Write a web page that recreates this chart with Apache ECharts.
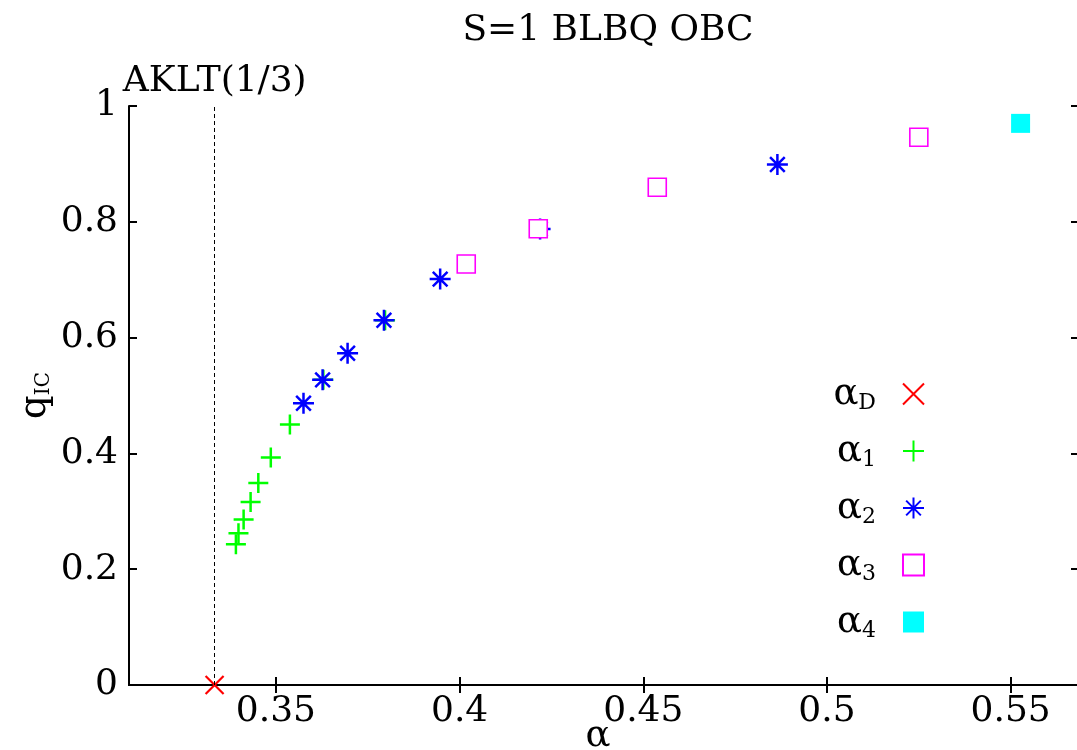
<!DOCTYPE html>
<html>
<head>
<meta charset="utf-8">
<script src="https://cdn.jsdelivr.net/npm/echarts@6/dist/echarts.min.js"></script>
<style>html,body{margin:0;padding:0;background:#fff}#c{width:1077px;height:750px}</style>
</head>
<body>
<div id="c"></div>
<script>
// ---- data ----
var titleText = 'S=1 BLBQ OBC';
var aklt = 1 / 3;
var xTicks = [0.35, 0.4, 0.45, 0.5, 0.55];
var yTicks = [0, 0.2, 0.4, 0.6, 0.8, 1];
var alphaD = [[0.3333, 0]];
var alpha1 = [[0.3391, 0.243], [0.3398, 0.262], [0.3412, 0.286], [0.3431, 0.316], [0.3452, 0.349], [0.3486, 0.393], [0.3538, 0.450], [0.3629, 0.527], [0.3797, 0.630]];
var alpha2 = [[0.3575, 0.4865], [0.3627, 0.527], [0.3695, 0.573], [0.3794, 0.630], [0.3947, 0.701], [0.4219, 0.7876], [0.4865, 0.899]];
var alpha3 = [[0.4018, 0.727], [0.4214, 0.788], [0.4538, 0.8596], [0.525, 0.946]];
var alpha4 = [[0.5527, 0.970]];

var FONT = 'DejaVu Serif';
var crossPath = 'path://M0,0L10,10M10,0L0,10';
var plusPath = 'path://M5,0L5,10M0,5L10,5';
var starPath = 'path://M5,0L5,10M0,5L10,5M1.5,1.5L8.5,8.5M8.5,1.5L1.5,8.5';

function sub(a, s) { return '{a|' + a + '}{s|' + s + '}'; }
var legendNames = {'aD': sub('α', 'D'), 'a1': sub('α', '1'), 'a2': sub('α', '2'), 'a3': sub('α', '3'), 'a4': sub('α', '4')};

var chart = echarts.init(document.getElementById('c'));
var axisCommon = {
  axisLine: {show: true, lineStyle: {color: '#000', width: 2}},
  axisTick: {show: true, inside: true, length: 8, lineStyle: {color: '#000', width: 2}},
  splitLine: {show: false}
};
chart.setOption({
  animation: false,
  backgroundColor: '#fff',
  title: {
    text: titleText, left: 603, top: 8, textAlign: 'center',
    textStyle: {fontFamily: FONT, fontWeight: 'normal', fontSize: 36, color: '#000'}
  },
  grid: {left: 129, top: 106, width: 950, height: 579, outerBoundsMode: 'none', containLabel: false},
  legend: {
    orient: 'vertical', right: 152, top: 374, align: 'right', itemGap: 17, padding: 0,
    itemWidth: 21, itemHeight: 21, selectedMode: false,
    formatter: function (n) { return legendNames[n]; },
    textStyle: {
      fontFamily: FONT, color: '#000',
      rich: {
        a: {fontFamily: FONT, fontSize: 37, lineHeight: 44, color: '#000'},
        s: {fontFamily: FONT, fontSize: 22, lineHeight: 26, color: '#000', padding: [18, 22, 0, 0]}
      }
    },
    data: ['aD', 'a1', 'a2', 'a3', 'a4']
  },
  xAxis: [
    Object.assign({}, axisCommon, {
      type: 'value', min: 0.31, max: 0.5686, position: 'bottom',
      name: 'α', nameLocation: 'middle', nameGap: 33, nameMoveOverlap: false,
      nameTextStyle: {fontFamily: FONT, fontSize: 37, color: '#000', padding: [0, 12, 0, 0]},
      axisTick: Object.assign({}, axisCommon.axisTick, {customValues: xTicks}),
      axisLabel: {customValues: xTicks, fontFamily: FONT, fontSize: 36, color: '#000', margin: 9,
        formatter: function (v) { return String(+v.toFixed(2)); }}
    }),
    Object.assign({}, axisCommon, {
      type: 'value', min: 0.31, max: 0.5686, position: 'top',
      axisTick: Object.assign({}, axisCommon.axisTick, {customValues: xTicks}),
      axisLabel: {show: false, customValues: xTicks}
    })
  ],
  yAxis: [
    Object.assign({}, axisCommon, {
      type: 'value', min: 0, max: 1, interval: 0.2, position: 'left',
      name: '{a|q}{s|IC}', nameLocation: 'middle', nameGap: 72, nameRotate: 90, nameMoveOverlap: false,
      nameTextStyle: {rich: {
        a: {fontFamily: FONT, fontSize: 37, lineHeight: 44, color: '#000'},
        s: {fontFamily: FONT, fontSize: 20, lineHeight: 24, color: '#000', padding: [18, 0, 0, 0]}
      }},
      axisLabel: {fontFamily: FONT, fontSize: 36, color: '#000', margin: 11,
        formatter: function (v) { return String(+v.toFixed(1)); }}
    }),
    Object.assign({}, axisCommon, {
      type: 'value', min: 0, max: 1, interval: 0.2, position: 'right',
      axisLabel: {show: false}
    })
  ],
  series: [
    {name: 'aD', type: 'scatter', data: alphaD, symbol: crossPath, symbolSize: 18,
     itemStyle: {color: 'rgba(0,0,0,0)', borderColor: '#ff0000', borderWidth: 2.2, opacity: 1},
     markLine: {silent: true, symbol: 'none', animation: false,
       lineStyle: {color: '#000', type: [4, 3], width: 1},
       label: {show: true, position: 'end', formatter: 'AKLT(1/3)', fontFamily: FONT, fontSize: 36, color: '#000', distance: 6},
       data: [[{coord: [aklt, 0]}, {coord: [aklt, 1]}]]}},
    {name: 'a1', type: 'scatter', data: alpha1, symbol: plusPath, symbolSize: 20,
     itemStyle: {color: 'rgba(0,0,0,0)', borderColor: '#00ff00', borderWidth: 2.5, opacity: 1}},
    {name: 'a2', type: 'scatter', data: alpha2, symbol: starPath, symbolSize: 21,
     itemStyle: {color: 'rgba(0,0,0,0)', borderColor: '#0000ff', borderWidth: 2.5, opacity: 1}},
    {name: 'a3', type: 'scatter', data: alpha3, symbol: 'rect', symbolSize: 18,
     itemStyle: {color: '#fff', borderColor: '#ff00ff', borderWidth: 1.6, opacity: 1}},
    {name: 'a4', type: 'scatter', data: alpha4, symbol: 'rect', symbolSize: 19,
     itemStyle: {color: '#00ffff', opacity: 1}}
  ]
});
</script>
</body>
</html>
